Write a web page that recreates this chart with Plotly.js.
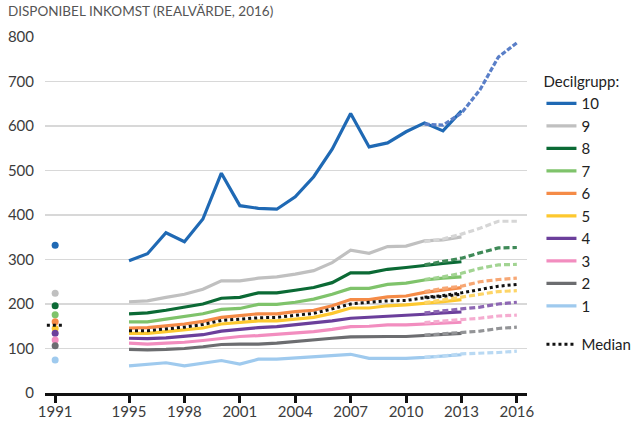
<!DOCTYPE html>
<html>
<head>
<meta charset="utf-8">
<script src="https://cdn.plot.ly/plotly-3.0.1.min.js"></script>
<style>html,body{margin:0;padding:0;background:#fff;}#chart{width:634px;height:421px;}</style>
</head>
<body>
<div id="chart"></div>
<script>
// ---- data ----
const years = [1995,1996,1997,1998,1999,2000,2001,2002,2003,2004,2005,2006,2007,2008,2009,2010,2011,2012,2013];
const projYears = [2011,2012,2013,2014,2015,2016];
const groupNames = ["10","9","8","7","6","5","4","3","2","1"];

const d10 = [297,313,360,340,391,494,421,415,413,441,486,548,628,553,562,587,607,589,634];
const d9  = [205,207,215,222,233,252,252,258,261,267,275,293,321,314,329,330,342,344,351];
const d8  = [178,180,186,193,200,213,215,225,225,231,237,248,270,270,278,282,287,291,295];
const d7  = [160,160,166,172,178,188,190,199,199,204,211,222,235,235,244,247,254,258,261];
const d6  = [146,147,151,155,161,170,174,178,178,183,186,196,210,210,216,218,226,232,237];
const d5  = [134,134,138,142,146,155,158,162,162,166,170,179,191,191,196,198,201,205,210];
const d4  = [123,122,124,127,131,139,143,147,149,153,157,162,168,170,172,175,177,180,182];
const d3  = [112,110,112,114,118,123,127,129,132,136,138,143,149,150,153,153,155,157,159];
const d2  = [98,97,98,100,104,109,110,110,112,116,119,123,126,127,127,127,129,131,134];
const d1  = [61,65,68,61,67,73,65,76,76,79,82,84,87,78,78,78,80,83,86];
const median = [140,140,144,148,154,163,166,169,170,175,179,189,200,204,207,208,214,217,222];

const p10 = [604,602,629,681,755,787];
const p9  = [340,346,357,370,386,386];
const p8  = [288,295,303,315,326,327];
const p7  = [255,261,269,280,288,289];
const p6  = [228,235,240,250,255,258];
const p5  = [203,209,215,222,228,230];
const p4  = [180,185,189,193,200,204];
const p3  = [158,162,165,168,173,175];
const p2  = [130,133,136,139,145,148];
const p1  = [80,83,88,89,91,94];
const pMedian = [215,219,225,233,240,244];

const year1991 = 1991;
const v1991 = [332,224,196,176,160,145,134,119,106,74]; // deciles 10..1
const median1991 = 152;

const xTicks = [1991,1995,1998,2001,2004,2007,2010,2013,2016];

// ---- styles ----
const colors = ["#1f69b4","#c0c0c0","#0b6a35","#7fc36b","#f58b47","#fdc82f","#6b3f9b","#f28dbf","#6c6d70","#9fcaee"];
const projColors = ["#5a7fc8","#d6d6d6","#3f8a58","#a2d492","#f7a774","#fdd567","#8d67b3","#f5acd0","#939497","#b9d9f3"];
const series = [d10,d9,d8,d7,d6,d5,d4,d3,d2,d1];
const projs = [p10,p9,p8,p7,p6,p5,p4,p3,p2,p1];

const traces = [];
series.forEach((s,i)=>{
  traces.push({x:years,y:s,type:"scatter",mode:"lines",name:groupNames[i],legendgroup:"dec",
    line:{color:colors[i],width:3.2},hoverinfo:"skip"});
});
traces.push({x:years,y:median,type:"scatter",mode:"lines",name:"Median",legendgroup:"med",
  line:{color:"#111",width:3,dash:"dot"},hoverinfo:"skip"});
projs.forEach((s,i)=>{
  traces.push({x:projYears,y:s,type:"scatter",mode:"lines",showlegend:false,legendgroup:"dec",
    line:{color:projColors[i],width:3.2,dash:i===0?"5px,2px":"6px,3px"},hoverinfo:"skip"});
});
traces.push({x:projYears,y:pMedian,type:"scatter",mode:"lines",showlegend:false,legendgroup:"med",
  line:{color:"#111",width:3,dash:"dot"},hoverinfo:"skip"});
v1991.forEach((v,i)=>{
  traces.push({x:[year1991],y:[v],type:"scatter",mode:"markers",showlegend:false,legendgroup:"dec",
    marker:{color:colors[i],size:7,symbol:"circle"},hoverinfo:"skip"});
});
traces.push({x:[year1991-0.45,year1991+0.45],y:[median1991,median1991],type:"scatter",mode:"lines",
  showlegend:false,legendgroup:"med",line:{color:"#111",width:3,dash:"dot"},hoverinfo:"skip"});

const layout = {
  width:634,height:421,
  margin:{l:45,r:107,t:37,b:28,autoexpand:false},
  paper_bgcolor:"#fff",plot_bgcolor:"#fff",
  font:{family:"Lato, 'Open Sans', sans-serif",color:"#3c3c3c",size:15},
  title:{text:"DISPONIBEL INKOMST (REALVÄRDE, 2016)",x:8/634,xref:"container",xanchor:"left",
    y:1-11/421,yref:"container",yanchor:"middle",font:{size:13.5,color:"#555"}},
  showlegend:true,
  legend:{x:1.03,xanchor:"left",y:0.914,yanchor:"top",traceorder:"grouped",tracegroupgap:16,
    title:{text:"Decilgrupp:",font:{size:15,color:"#222"}},font:{size:15,color:"#222"},bgcolor:"rgba(0,0,0,0)"},
  xaxis:{range:[1990.45,2016.55],tickvals:xTicks,ticktext:xTicks.map(String),showgrid:false,zeroline:false,
    showline:true,linecolor:"#111",linewidth:3,ticks:"outside",ticklen:7,tickwidth:3,tickcolor:"#111",
    ticklabelstandoff:-4,tickfont:{size:15,color:"#3c3c3c"},fixedrange:true},
  yaxis:{range:[0,800],tickvals:[0,100,200,300,400,500,600,700,800],showgrid:true,gridcolor:"#d8d8d8",gridwidth:1.5,
    zeroline:false,showline:false,ticks:"",ticklabelstandoff:10,tickfont:{size:15,color:"#3c3c3c"},fixedrange:true}
};

Plotly.newPlot("chart",traces,layout,{displayModeBar:false,staticPlot:true});
</script>
</body>
</html>
